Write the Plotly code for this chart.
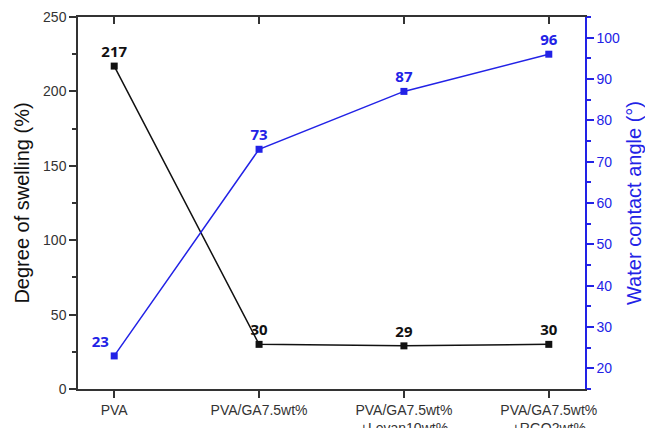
import plotly.graph_objects as go

# Samples and measured properties
samples = [
    "PVA",
    "PVA/GA7.5wt%",
    "PVA/GA7.5wt%<br>+Levan10wt%",
    "PVA/GA7.5wt%<br>+RGO2wt%",
]
swelling = [217, 30, 29, 30]          # degree of swelling (%)
contact_angle = [23, 73, 87, 96]      # water contact angle (deg)

x_pos = list(range(len(samples)))

BLACK = "#111111"
BLUE = "#2222e6"
AXIS = "#333333"
FAMILY = "Liberation Sans, Arial, sans-serif"
TICKFONT = dict(family=FAMILY, size=14, color="#333333")

fig = go.Figure()

fig.add_trace(go.Scatter(
    x=x_pos, y=swelling, mode="lines+markers+text",
    line=dict(color=BLACK, width=1.5),
    marker=dict(symbol="square", size=7, color=BLACK),
    text=[str(v) for v in swelling],
    textposition="top center",
    textfont=dict(family="Noto Sans, sans-serif", size=15, color=BLACK, weight="bold"),
    cliponaxis=False, showlegend=False,
))

angle_pos = ["top left", "top center", "top center", "top center"]
fig.add_trace(go.Scatter(
    x=x_pos, y=contact_angle, mode="lines+markers+text",
    line=dict(color=BLUE, width=1.5),
    marker=dict(symbol="square", size=7, color=BLUE),
    text=[str(v) for v in contact_angle],
    textposition=angle_pos,
    textfont=dict(family="Noto Sans, sans-serif", size=15, color=BLUE, weight="bold"),
    yaxis="y2", cliponaxis=False, showlegend=False,
))

# invisible trace that carries the top axis
fig.add_trace(go.Scatter(x=x_pos, y=swelling, xaxis="x2", mode="markers",
                         marker=dict(opacity=0), hoverinfo="skip", showlegend=False))

fig.update_layout(
    width=645, height=428,
    margin=dict(l=78, r=60, t=17, b=39),
    plot_bgcolor="white", paper_bgcolor="white",
    xaxis=dict(
        range=[-0.25, 3.25], tickmode="array", tickvals=x_pos, ticktext=samples,
        ticks="outside", ticklen=7, tickwidth=1.5, tickcolor=AXIS,
        showline=True, linecolor=AXIS, linewidth=1.5, automargin=False,
        showgrid=False, zeroline=False, tickfont=TICKFONT,
    ),
    xaxis2=dict(
        range=[-0.25, 3.25], overlaying="x", side="top", anchor="y",
        tickmode="array", tickvals=x_pos, showticklabels=False,
        ticks="inside", ticklen=7, tickwidth=1.5, tickcolor=AXIS,
        showline=True, linecolor=AXIS, linewidth=1.5, automargin=False,
        showgrid=False, zeroline=False,
    ),
    yaxis=dict(
        range=[0, 250], dtick=50, ticks="outside", ticklen=7, tickwidth=1.5,
        tickcolor=AXIS, showline=True, linecolor=AXIS, linewidth=1.5,
        showgrid=False, zeroline=False, tickfont=TICKFONT, automargin=False,
        minor=dict(dtick=25, ticks="outside", ticklen=4, tickwidth=1.5, tickcolor=AXIS),
        title=dict(text="Degree of swelling (%)", standoff=8,
                   font=dict(family=FAMILY, size=20, color=BLACK)),
    ),
    yaxis2=dict(
        range=[15, 105], tick0=20, dtick=10, overlaying="y", side="right",
        ticks="outside", ticklen=7, tickwidth=1.5, tickcolor=BLUE,
        showline=True, linecolor=BLUE, linewidth=1.5, automargin=False,
        showgrid=False, zeroline=False,
        tickfont=dict(family=FAMILY, size=14, color=BLUE),
        minor=dict(tick0=15, dtick=10, ticks="outside", ticklen=4, tickwidth=1.5, tickcolor=BLUE),
        title=dict(text="Water contact angle (°)", standoff=8,
                   font=dict(family=FAMILY, size=20, color=BLUE)),
    ),
)

fig.write_html("out.html")
